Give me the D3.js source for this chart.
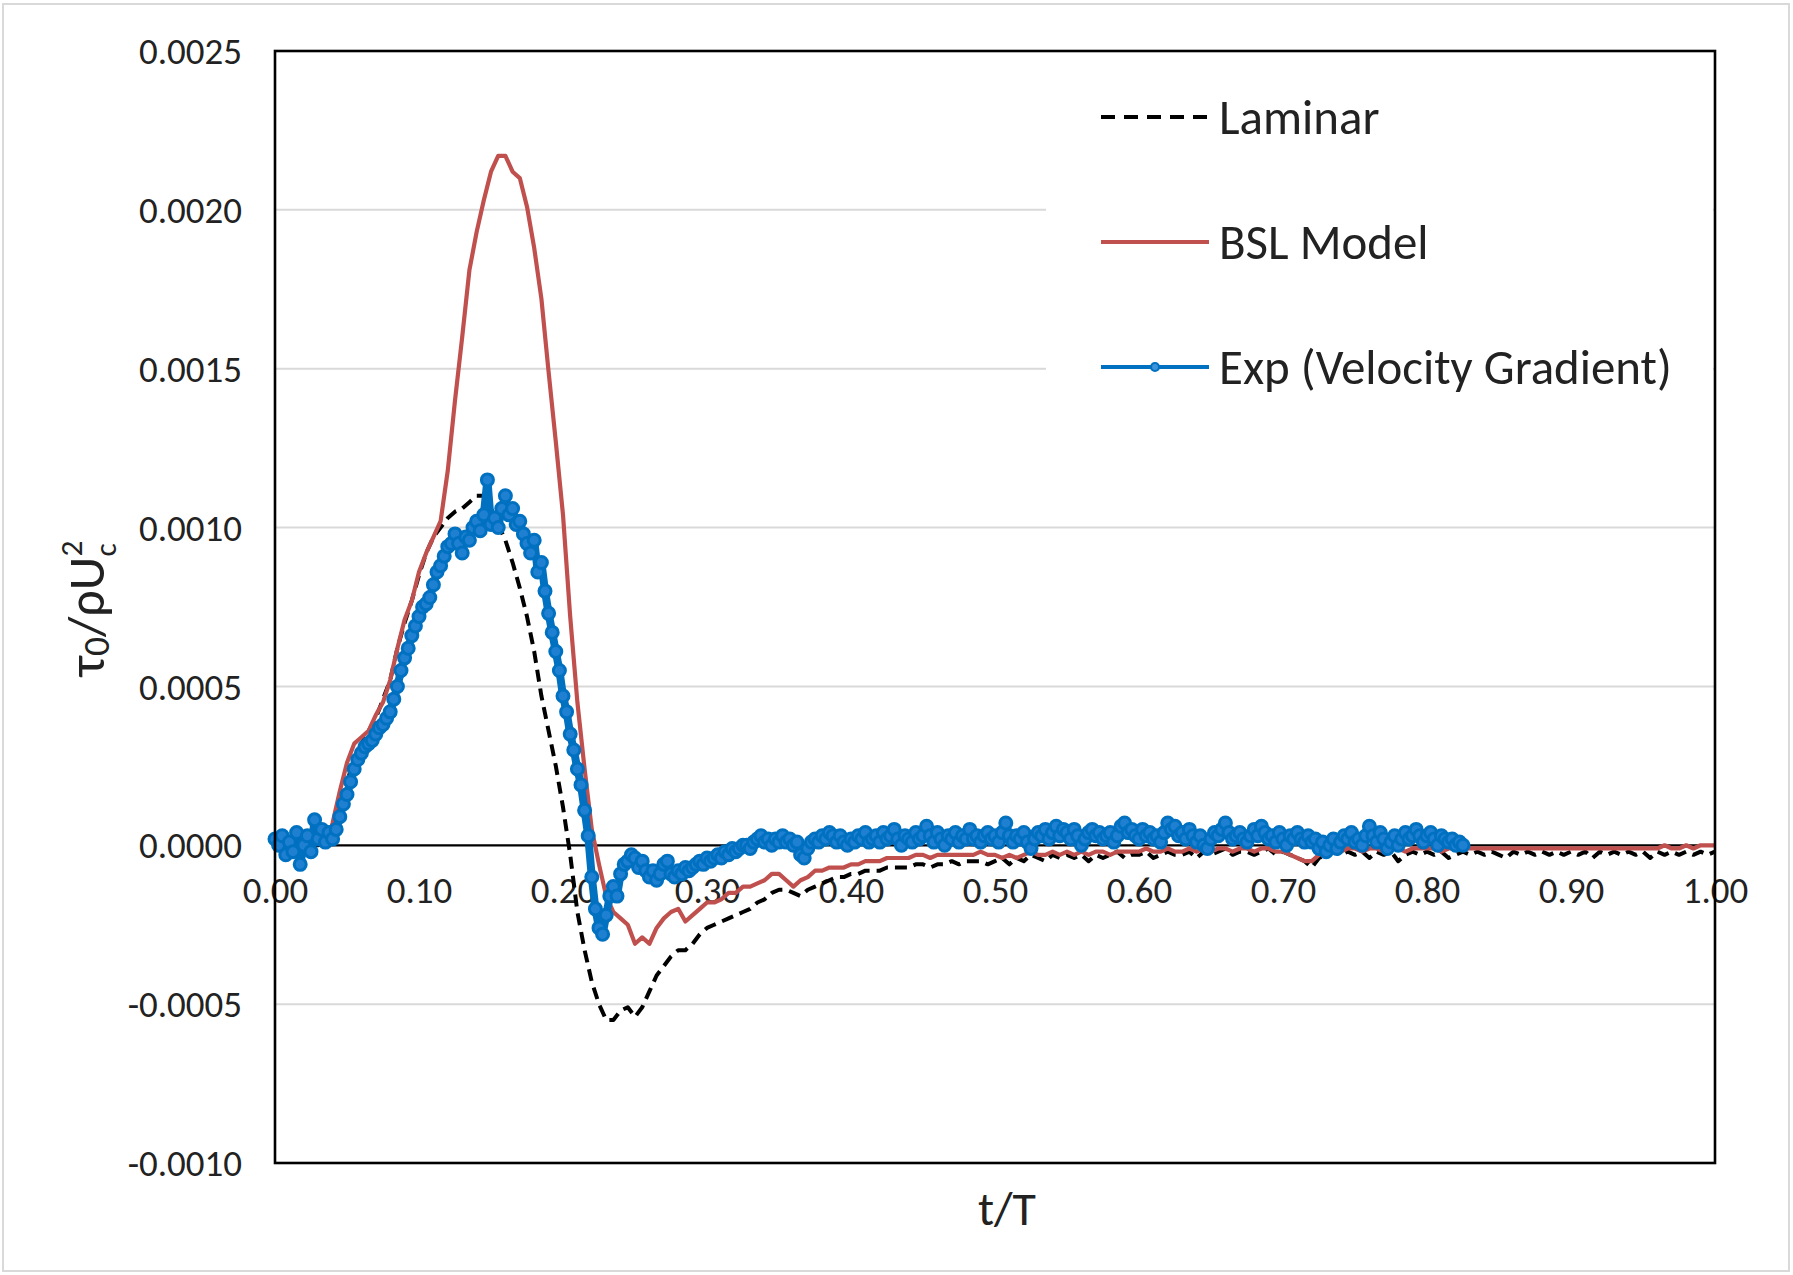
<!DOCTYPE html>
<html><head><meta charset="utf-8">
<script src="https://cdn.jsdelivr.net/npm/d3@7"></script>
<style>html,body{margin:0;padding:0;background:#fff;} svg{display:block}</style>
</head><body>
<svg id="chart" width="1793" height="1275"></svg>
<script>
// ---------------- DATA ----------------
const seriesNames = ["Laminar", "BSL Model", "Exp (Velocity Gradient)"];
const xTickValues = [0, 0.1, 0.2, 0.3, 0.4, 0.5, 0.6, 0.7, 0.8, 0.9, 1.0];
const xTickLabels = ["0.00","0.10","0.20","0.30","0.40","0.50","0.60","0.70","0.80","0.90","1.00"];
const yTickValues = [-0.0010, -0.0005, 0, 0.0005, 0.0010, 0.0015, 0.0020, 0.0025];
const yTickLabels = ["-0.0010","-0.0005","0.0000","0.0005","0.0010","0.0015","0.0020","0.0025"];
const xTitle = "t/T";

// Laminar: sampled every 0.005 in t/T (t = 0 ... 1.00)
const laminarStep = 0.005;
const laminarTau = [
 0,0,0,0,0,0,0,1e-5,4e-5,12e-5,20e-5,27e-5,32e-5,36e-5,40e-5,46e-5,52e-5,62e-5,70e-5,77e-5,
 85e-5,92e-5,97e-5,100e-5,103e-5,105e-5,106e-5,108e-5,110e-5,110e-5,106e-5,101e-5,96e-5,89e-5,81e-5,72e-5,61e-5,47e-5,36e-5,25e-5,
 12e-5,-3e-5,-21e-5,-33e-5,-43e-5,-50e-5,-55e-5,-55e-5,-52e-5,-51e-5,-54e-5,-51e-5,-46e-5,-41e-5,-38e-5,-35e-5,-33e-5,-33e-5,-31e-5,-28e-5,
 -26e-5,-25e-5,-24e-5,-23e-5,-22e-5,-21e-5,-20e-5,-18e-5,-17e-5,-15e-5,-14e-5,-14e-5,-15e-5,-16e-5,-14e-5,-13e-5,-12e-5,-11e-5,-10e-5,-10e-5,
 -9e-5,-9e-5,-8e-5,-8e-5,-8e-5,-7e-5,-7e-5,-7e-5,-7e-5,-6e-5,-6e-5,-7e-5,-6e-5,-6e-5,-5e-5,-6e-5,-5e-5,-5e-5,-5e-5,-6e-5,
 -5e-5,-4e-5,-6e-5,-4e-5,-5e-5,-3e-5,-4e-5,-5e-5,-3e-5,-4e-5,-3e-5,-4e-5,-3e-5,-5e-5,-3e-5,-4e-5,-3e-5,-2e-5,-4e-5,-3e-5,
 -3e-5,-2e-5,-4e-5,-3e-5,-2e-5,-3e-5,-3e-5,-2e-5,-4e-5,-2e-5,-3e-5,-2e-5,-1e-5,-3e-5,-2e-5,-2e-5,-3e-5,-2e-5,-1e-5,-3e-5,
 -2e-5,-3e-5,-4e-5,-5e-5,-7e-5,-4e-5,-3e-5,-2e-5,-3e-5,-2e-5,-3e-5,-2e-5,-4e-5,-2e-5,-3e-5,-2e-5,-5e-5,-3e-5,-2e-5,-3e-5,
 -2e-5,-3e-5,-2e-5,-4e-5,-3e-5,-2e-5,-3e-5,-2e-5,-3e-5,-2e-5,-3e-5,-4e-5,-2e-5,-3e-5,-2e-5,-3e-5,-2e-5,-3e-5,-2e-5,-3e-5,
 -2e-5,-3e-5,-2e-5,-4e-5,-2e-5,-3e-5,-2e-5,-3e-5,-2e-5,-3e-5,-2e-5,-4e-5,-2e-5,-3e-5,-2e-5,-3e-5,-2e-5,-3e-5,-2e-5,-3e-5,
 -2e-5
];

// BSL Model: sampled every 0.005 in t/T (t = 0 ... 1.00)
const bslStep = 0.005;
const bslTau = [
 0,0,0,0,0,0,1e-5,0,7e-5,17e-5,26e-5,32e-5,34e-5,36e-5,41e-5,45e-5,52e-5,62e-5,71e-5,77e-5,
 86e-5,92e-5,97e-5,102e-5,118e-5,140e-5,160e-5,181e-5,193e-5,203e-5,212e-5,217e-5,217e-5,212e-5,210e-5,201e-5,188e-5,172e-5,149e-5,127e-5,
 104e-5,72e-5,45e-5,24e-5,5e-5,-6e-5,-16e-5,-21e-5,-23e-5,-25e-5,-31e-5,-29e-5,-31e-5,-26e-5,-23e-5,-21e-5,-20e-5,-24e-5,-22e-5,-20e-5,
 -18e-5,-18e-5,-17e-5,-15e-5,-15e-5,-13e-5,-13e-5,-12e-5,-11e-5,-9e-5,-9e-5,-11e-5,-13e-5,-11e-5,-10e-5,-8e-5,-8e-5,-7e-5,-7e-5,-7e-5,
 -6e-5,-6e-5,-5e-5,-5e-5,-5e-5,-4e-5,-4e-5,-4e-5,-4e-5,-3e-5,-3e-5,-4e-5,-3e-5,-3e-5,-3e-5,-3e-5,-3e-5,-3e-5,-2e-5,-3e-5,
 -3e-5,-4e-5,-3e-5,-4e-5,-3e-5,-2e-5,-3e-5,-3e-5,-2e-5,-3e-5,-2e-5,-3e-5,-2e-5,-3e-5,-2e-5,-2e-5,-3e-5,-2e-5,-2e-5,-2e-5,
 -2e-5,-1e-5,-2e-5,-2e-5,-1e-5,-2e-5,-2e-5,-1e-5,-2e-5,-1e-5,-2e-5,-1e-5,-1e-5,-2e-5,-1e-5,-1e-5,-2e-5,-1e-5,-1e-5,-2e-5,
 -2e-5,-3e-5,-4e-5,-5e-5,-5e-5,-3e-5,-2e-5,-1e-5,-2e-5,-1e-5,-1e-5,-2e-5,-1e-5,-1e-5,-2e-5,-1e-5,-1e-5,-2e-5,-1e-5,-1e-5,
 -1e-5,-1e-5,-2e-5,-1e-5,-1e-5,-1e-5,-1e-5,-1e-5,-1e-5,-1e-5,-1e-5,-1e-5,-1e-5,-1e-5,-1e-5,-1e-5,-1e-5,-1e-5,-1e-5,-1e-5,
 -1e-5,-1e-5,-1e-5,-1e-5,-1e-5,-1e-5,-1e-5,-1e-5,-1e-5,-1e-5,-1e-5,-1e-5,-1e-5,0,-1e-5,-1e-5,0,-1e-5,0,0,
 0
];

// Experiment (velocity gradient): sampled every 0.0025 in t/T (t = 0 ... 0.825)
const expStep = 0.0025;
const expTau = [
 2e-5,0,3e-5,-3e-5,1e-5,-2e-5,4e-5,-6e-5,0,3e-5,-2e-5,8e-5,2e-5,5e-5,1e-5,4e-5,2e-5,5e-5,9e-5,13e-5,
 16e-5,20e-5,24e-5,27e-5,29e-5,31e-5,32e-5,33e-5,35e-5,37e-5,38e-5,40e-5,42e-5,46e-5,50e-5,55e-5,59e-5,62e-5,66e-5,69e-5,
 72e-5,75e-5,76e-5,78e-5,82e-5,86e-5,88e-5,91e-5,94e-5,95e-5,98e-5,95e-5,92e-5,97e-5,96e-5,100e-5,102e-5,99e-5,104e-5,115e-5,
 101e-5,103e-5,100e-5,106e-5,110e-5,104e-5,106e-5,101e-5,102e-5,98e-5,95e-5,92e-5,96e-5,86e-5,89e-5,80e-5,73e-5,67e-5,61e-5,55e-5,
 47e-5,42e-5,35e-5,30e-5,24e-5,19e-5,11e-5,3e-5,-10e-5,-20e-5,-26e-5,-28e-5,-22e-5,-16e-5,-13e-5,-16e-5,-9e-5,-6e-5,-5e-5,-3e-5,
 -4e-5,-7e-5,-5e-5,-8e-5,-10e-5,-8e-5,-11e-5,-9e-5,-6e-5,-5e-5,-9e-5,-10e-5,-8e-5,-9e-5,-7e-5,-8e-5,-7e-5,-6e-5,-5e-5,-6e-5,
 -4e-5,-5e-5,-4e-5,-3e-5,-4e-5,-2e-5,-3e-5,-1e-5,-2e-5,-1e-5,0,0,-1e-5,1e-5,2e-5,3e-5,1e-5,2e-5,0,2e-5,
 1e-5,3e-5,1e-5,2e-5,0,1e-5,-3e-5,-4e-5,-1e-5,1e-5,2e-5,1e-5,3e-5,2e-5,4e-5,3e-5,1e-5,3e-5,1e-5,0,
 2e-5,1e-5,3e-5,2e-5,4e-5,1e-5,2e-5,3e-5,1e-5,4e-5,2e-5,3e-5,5e-5,2e-5,0,3e-5,2e-5,1e-5,4e-5,2e-5,
 3e-5,6e-5,3e-5,1e-5,4e-5,2e-5,0,3e-5,2e-5,4e-5,1e-5,3e-5,2e-5,5e-5,2e-5,3e-5,1e-5,3e-5,4e-5,2e-5,
 3e-5,1e-5,4e-5,7e-5,3e-5,1e-5,3e-5,2e-5,4e-5,1e-5,-1e-5,2e-5,4e-5,3e-5,5e-5,2e-5,4e-5,6e-5,3e-5,5e-5,
 4e-5,2e-5,5e-5,3e-5,0,2e-5,4e-5,5e-5,3e-5,4e-5,2e-5,3e-5,4e-5,1e-5,3e-5,6e-5,7e-5,4e-5,5e-5,3e-5,
 2e-5,5e-5,3e-5,4e-5,2e-5,3e-5,1e-5,4e-5,7e-5,5e-5,6e-5,3e-5,4e-5,2e-5,5e-5,3e-5,1e-5,3e-5,0,-1e-5,
 2e-5,4e-5,3e-5,5e-5,7e-5,4e-5,2e-5,3e-5,4e-5,2e-5,1e-5,3e-5,5e-5,3e-5,6e-5,4e-5,2e-5,3e-5,1e-5,4e-5,
 2e-5,0,3e-5,2e-5,4e-5,2e-5,1e-5,3e-5,1e-5,2e-5,-1e-5,1e-5,-2e-5,0,2e-5,-1e-5,1e-5,3e-5,2e-5,4e-5,
 1e-5,2e-5,0,3e-5,6e-5,3e-5,1e-5,4e-5,2e-5,-1e-5,1e-5,3e-5,0,2e-5,4e-5,2e-5,3e-5,5e-5,3e-5,1e-5,
 3e-5,4e-5,2e-5,0,3e-5,2e-5,1e-5,2e-5,0,1e-5,0
];

// sample times (uniform sampling in t/T)
const laminarT = laminarTau.map((_, i) => +(i * laminarStep).toFixed(4));
const bslT = bslTau.map((_, i) => +(i * bslStep).toFixed(4));
const expT = expTau.map((_, i) => +(i * expStep).toFixed(4));

// ---------------- LAYOUT ----------------
const svg = d3.select("#chart");
const W = 1793, H = 1275;
const P = {left: 275, right: 1715, top: 51, bottom: 1163};
const FONT = "Carlito, Calibri, Lato, 'Open Sans', sans-serif";
const TXT = "#222";

const x = d3.scaleLinear().domain([0, 1]).range([P.left, P.right]);
const y = d3.scaleLinear().domain([-0.0010, 0.0025]).range([P.bottom, P.top]);

function fitSize(str, targetW) {
  const t = svg.append("text").attr("font-family", FONT).attr("font-size", 100).text(str);
  const w = t.node().getComputedTextLength();
  t.remove();
  return 100 * targetW / w;
}
const tickFS = fitSize("0.0025", 103);
const legFS = fitSize("Exp (Velocity Gradient)", 453);
const xTitleFS = fitSize("t/T", 58);

// background + outer border
svg.append("rect").attr("x", 0).attr("y", 0).attr("width", W).attr("height", H).attr("fill", "#fff");
svg.append("rect").attr("x", 3).attr("y", 4).attr("width", 1786).attr("height", 1267)
  .attr("fill", "none").attr("stroke", "#d9d9d9").attr("stroke-width", 2);

// gridlines
svg.append("g").selectAll("line").data(yTickValues.filter(v => v !== 0 && v !== 0.0025 && v !== -0.0010))
  .join("line")
  .attr("x1", P.left).attr("x2", P.right)
  .attr("y1", d => y(d)).attr("y2", d => y(d))
  .attr("stroke", "#d9d9d9").attr("stroke-width", 2);

// y axis labels
const yAxis = d3.axisLeft(y).tickValues(yTickValues).tickSize(0).tickPadding(0)
  .tickFormat((d, i) => yTickLabels[i]);
const gy = svg.append("g").attr("transform", `translate(${242},0)`).call(yAxis);
gy.select(".domain").remove();
gy.selectAll("text").attr("font-family", FONT).attr("font-size", tickFS).attr("fill", TXT)
  .attr("dy", "0.34em").attr("x", 0);

// x axis labels (placed below the zero line)
const xAxis = d3.axisBottom(x).tickValues(xTickValues).tickSize(0).tickPadding(0)
  .tickFormat((d, i) => xTickLabels[i]);
const gx = svg.append("g").attr("transform", `translate(0,${y(0)})`).call(xAxis);
gx.select(".domain").remove();
gx.selectAll("text").attr("font-family", FONT).attr("font-size", tickFS).attr("fill", TXT)
  .attr("y", 58).attr("dy", 0);

// zero line
svg.append("line").attr("x1", P.left).attr("x2", P.right).attr("y1", y(0)).attr("y2", y(0))
  .attr("stroke", "#000").attr("stroke-width", 2.2);

// series
const line = d3.line().x(d => x(d[0])).y(d => y(d[1]));
const lamData = d3.zip(laminarT, laminarTau);
const bslData = d3.zip(bslT, bslTau);
const expData = d3.zip(expT, expTau);

svg.append("path").datum(lamData).attr("d", line).attr("fill", "none")
  .attr("stroke", "#000").attr("stroke-width", 4).attr("stroke-dasharray", "12,7")
  .attr("stroke-linejoin", "round");
svg.append("path").datum(bslData).attr("d", line).attr("fill", "none")
  .attr("stroke", "#C0504D").attr("stroke-width", 4.2).attr("stroke-linejoin", "round");
svg.append("path").datum(expData).attr("d", line).attr("fill", "none")
  .attr("stroke", "#0070C0").attr("stroke-width", 8).attr("stroke-linejoin", "round");
svg.append("g").selectAll("circle").data(expData).join("circle")
  .attr("cx", d => x(d[0])).attr("cy", d => y(d[1])).attr("r", 6)
  .attr("fill", "#1f80d2").attr("stroke", "#0070C0").attr("stroke-width", 3);

// legend (white box over the upper right of the plot)
svg.append("rect").attr("x", 1046).attr("y", P.top + 2).attr("width", P.right - 1046 - 2).attr("height", 390)
  .attr("fill", "#fff");
const legY = [117, 242, 367];
const lg = svg.append("g");
lg.append("line").attr("x1", 1101).attr("x2", 1209).attr("y1", legY[0]).attr("y2", legY[0])
  .attr("stroke", "#000").attr("stroke-width", 3.8).attr("stroke-dasharray", "14,9");
lg.append("line").attr("x1", 1101).attr("x2", 1209).attr("y1", legY[1]).attr("y2", legY[1])
  .attr("stroke", "#C0504D").attr("stroke-width", 4);
lg.append("line").attr("x1", 1101).attr("x2", 1209).attr("y1", legY[2]).attr("y2", legY[2])
  .attr("stroke", "#0070C0").attr("stroke-width", 4);
lg.append("circle").attr("cx", 1155).attr("cy", legY[2]).attr("r", 4)
  .attr("fill", "#3d93dc").attr("stroke", "#0070C0").attr("stroke-width", 2.2);
lg.selectAll("text").data(seriesNames).join("text")
  .attr("x", 1219).attr("y", (d, i) => legY[i]).attr("dy", "0.34em")
  .attr("font-family", FONT).attr("font-size", legFS).attr("fill", TXT)
  .text(d => d);

// plot border
svg.append("rect").attr("x", P.left).attr("y", P.top).attr("width", P.right - P.left).attr("height", P.bottom - P.top)
  .attr("fill", "none").attr("stroke", "#000").attr("stroke-width", 2.6);

// x title
svg.append("text").attr("x", 1007).attr("y", 1225).attr("text-anchor", "middle")
  .attr("font-family", FONT).attr("font-size", xTitleFS).attr("fill", TXT).text(xTitle);

// y title: tau_0 / rho U_c^2 (rotated)
function buildYTitle(fs) {
  const t = svg.append("text").attr("font-family", FONT).attr("font-size", fs).attr("fill", TXT);
  t.append("tspan").text("τ");
  t.append("tspan").attr("font-size", fs * 0.72).attr("dy", fs * 0.1).text("0");
  t.append("tspan").attr("dy", -fs * 0.1).text("/ρU");
  t.append("tspan").attr("font-size", fs * 0.6).attr("dy", fs * 0.22).text("c");
  const p = t.node().getStartPositionOfChar(5);
  t.append("tspan").attr("font-size", fs * 0.6).attr("x", p.x).attr("y", -fs * 0.42).text("2");
  return t;
}
let yt = buildYTitle(40);
const w0 = yt.node().getBBox().width;
yt.remove();
const ytFS = 40 * 137 / w0;
yt = buildYTitle(ytFS);
const bb = yt.node().getBBox();
yt.attr("transform", `translate(104,608) rotate(-90) translate(${-bb.width / 2},0)`);
</script>
</body></html>
